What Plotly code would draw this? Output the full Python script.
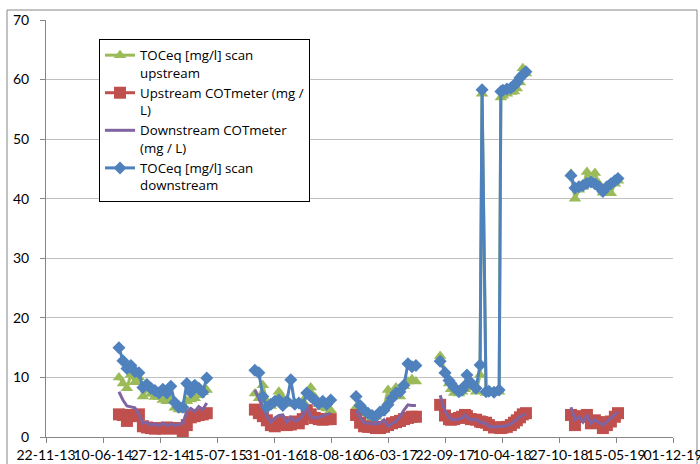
import plotly.graph_objects as go

# ---------------- data ----------------
tick_dates = ["2013-11-22", "2014-06-10", "2014-12-27", "2015-07-15", "2016-01-31", "2016-08-18",
              "2017-03-06", "2017-09-22", "2018-04-10", "2018-10-27", "2019-05-15", "2019-12-01"]
tick_labels = ["22-11-13", "10-06-14", "27-12-14", "15-07-15", "31-01-16", "18-08-16",
               "06-03-17", "22-09-17", "10-04-18", "27-10-18", "15-05-19", "01-12-19"]

g1_dates = ["2014-08-05", "2014-08-19", "2014-09-02", "2014-09-16", "2014-09-30", "2014-10-14",
            "2014-10-28", "2014-11-11", "2014-11-25", "2014-12-09", "2014-12-23", "2015-01-06",
            "2015-01-20", "2015-02-03", "2015-02-17", "2015-03-03", "2015-03-17", "2015-03-31",
            "2015-04-14", "2015-04-28", "2015-05-12", "2015-05-26", "2015-06-09"]
g1_scan_up = [10.0, 9.0, 8.2, 10.5, 9.2, 10.0, 6.8, 8.0, 7.2, 6.7, 6.7, 6.2, 6.0, 6.5, 4.9, 4.6, 4.5,
              6.0, 6.3, 6.5, 7.0, 7.5, 7.9]
g1_cot_up = [3.8, 3.7, 2.7, 3.5, 3.7, 3.8, 1.8, 1.6, 1.5, 1.4, 1.5, 1.4, 1.6, 1.5, 1.4, 1.5, 0.9,
             2.0, 3.3, 3.5, 3.7, 3.8, 4.0]
g1_cot_down = [7.6, 6.2, 5.2, 5.0, 4.9, 3.8, 2.3, 2.5, 2.0, 2.2, 1.9, 2.3, 1.9, 2.2, 1.9, 2.1, 2.3,
               4.3, 4.8, 4.3, 5.1, 4.6, 5.7]
g1_scan_down = [15.0, 12.8, 11.5, 12.0, 11.0, 10.8, 8.3, 8.8, 8.2, 7.8, 7.4, 8.0, 7.4, 8.5, 5.8, 5.0,
                5.0, 9.0, 7.5, 8.7, 8.2, 7.5, 9.9]

g2_dates = ["2015-11-25", "2015-12-09", "2015-12-23", "2016-01-06", "2016-01-20", "2016-02-03",
            "2016-02-17", "2016-03-02", "2016-03-16", "2016-03-30", "2016-04-13", "2016-04-27",
            "2016-05-11", "2016-05-25", "2016-06-08", "2016-06-22", "2016-07-06", "2016-07-20",
            "2016-08-03", "2016-08-17"]
g2_scan_up = [7.3, 6.5, 8.7, 6.0, 5.2, 6.0, 7.6, 6.5, 5.8, 5.6, 5.5, 5.5, 6.0, 6.8, 8.3, 6.7, 5.5,
              5.0, 4.8, 4.5]
g2_cot_up = [4.6, 4.0, 3.5, 2.8, 2.0, 1.8, 2.2, 2.5, 2.0, 2.1, 2.6, 2.3, 3.0, 4.5, 3.8, 3.2, 3.0,
             2.9, 3.0, 3.0]
g2_cot_down = [7.9, 6.4, 4.8, 3.5, 2.5, 3.2, 3.6, 3.7, 2.5, 3.3, 2.7, 2.9, 3.6, 5.0, 3.4, 3.2, 3.3,
               3.5, 3.8, 4.0]
g2_scan_down = [11.2, 10.8, 6.8, 5.0, 5.5, 6.0, 6.2, 5.3, 6.0, 9.6, 5.5, 5.7, 5.3, 7.4, 6.8, 6.2,
                5.6, 6.0, 5.5, 6.2]

g3_dates = ["2016-11-14", "2016-11-28", "2016-12-12", "2016-12-26", "2017-01-09", "2017-01-23",
            "2017-02-06", "2017-02-20", "2017-03-06", "2017-03-20", "2017-04-03", "2017-04-17",
            "2017-05-01", "2017-05-15", "2017-05-29", "2017-06-12"]
g3_scan_up = [5.0, 4.3, 4.0, 3.5, 3.2, 3.4, 4.0, 5.0, 7.9, 7.0, 8.3, 6.8, 8.5, 9.3, 9.7, 9.3]
g3_cot_up = [3.7, 2.4, 1.8, 1.7, 1.7, 1.5, 1.5, 1.7, 2.0, 2.3, 2.5, 2.7, 3.0, 3.2, 3.4, 3.4]
g3_cot_down = [4.5, 3.3, 2.4, 2.3, 2.3, 2.2, 2.3, 2.9, 1.8, 2.3, 2.6, 3.4, 4.5, 5.4, 5.3, 5.3]
g3_scan_down = [6.8, 5.3, 4.5, 4.0, 3.6, 3.5, 4.2, 4.5, 5.4, 6.5, 7.4, 7.6, 8.7, 12.3, 11.8, 12.0]

g4_dates = ["2017-09-05", "2017-09-22", "2017-10-06", "2017-10-13", "2017-10-24", "2017-11-10",
            "2017-11-21", "2017-12-01", "2017-12-08", "2017-12-22", "2018-01-09", "2018-01-23",
            "2018-01-30", "2018-02-13", "2018-02-23", "2018-03-13", "2018-03-31", "2018-04-06",
            "2018-04-13", "2018-04-27", "2018-05-11", "2018-05-22", "2018-06-01", "2018-06-12",
            "2018-06-22", "2018-07-03"]
g4_scan_up = [13.6, 11.0, 9.0, 8.0, 7.4, 7.3, 7.6, 8.0, 8.5, 8.3, 7.6, 10.4, 57.6, 7.4, 7.5, 7.4,
              7.6, 57.0, 57.3, 57.6, 57.9, 58.0, 58.5, 59.5, 61.9, 61.0]
g4_cot_up = [5.4, 3.6, 3.0, 2.9, 3.0, 3.2, 3.4, 3.7, 3.5, 3.0, 2.9, 2.6, 2.5, 2.4, 2.0, 1.6, 1.6,
             1.5, 1.6, 1.7, 2.0, 2.4, 2.8, 3.3, 3.8, 4.0]
g4_cot_down = [7.0, 4.3, 3.4, 3.0, 2.9, 3.0, 3.2, 3.7, 3.3, 2.9, 2.9, 2.5, 2.4, 2.3, 1.8, 1.7, 1.7,
               1.7, 1.8, 1.9, 2.2, 2.6, 2.9, 3.4, 3.7, 3.9]
g4_scan_down = [12.7, 10.8, 9.5, 9.0, 8.3, 7.6, 7.9, 8.6, 10.4, 9.1, 8.2, 12.1, 58.3, 7.6, 7.7, 7.5,
                7.9, 58.0, 58.2, 58.4, 58.6, 59.0, 59.5, 60.3, 60.8, 61.3]

g5_dates = ["2018-12-08", "2018-12-22", "2019-01-05", "2019-01-19", "2019-02-02", "2019-02-16",
            "2019-03-02", "2019-03-16", "2019-03-30", "2019-04-13", "2019-04-27", "2019-05-11",
            "2019-05-22"]
g5_scan_up = [44.2, 40.0, 41.5, 42.0, 44.5, 43.0, 44.3, 42.5, 41.0, 41.5, 40.9, 42.5, 43.0]
g5_cot_up = [3.7, 2.0, 3.4, 3.5, 3.7, 2.3, 2.8, 2.5, 1.5, 2.0, 2.6, 3.4, 4.0]
g5_cot_down = [5.0, 2.9, 3.4, 2.5, 3.7, 2.3, 2.9, 2.5, 2.0, 2.6, 3.2, 3.8, 4.2]
g5_scan_down = [43.9, 41.8, 42.0, 42.2, 42.6, 42.8, 42.5, 42.0, 41.2, 42.0, 42.5, 43.0, 43.4]

series_names = ["TOCeq [mg/l] scan<br>upstream", "Upstream COTmeter (mg /<br>L)",
                "Downstream COTmeter<br>(mg / L)", "TOCeq [mg/l] scan<br>downstream"]

# ---------------- helpers ----------------
groups_dates = [g1_dates, g2_dates, g3_dates, g4_dates, g5_dates]


def join(groups):
    out = []
    for i, g in enumerate(groups):
        if i:
            out.append(None)
        out.extend(g)
    return out


x_all = join(groups_dates)
scan_up = join([g1_scan_up, g2_scan_up, g3_scan_up, g4_scan_up, g5_scan_up])
cot_up = join([g1_cot_up, g2_cot_up, g3_cot_up, g4_cot_up, g5_cot_up])
cot_down = join([g1_cot_down, g2_cot_down, g3_cot_down, g4_cot_down, g5_cot_down])
scan_down = join([g1_scan_down, g2_scan_down, g3_scan_down, g4_scan_down, g5_scan_down])

GREEN = "#9BBB59"
RED = "#C0504D"
PURPLE = "#8064A2"
BLUE = "#4F81BD"
FONT = "Lato, 'Liberation Sans', sans-serif"
LEG_FONT = "'Open Sans', 'Liberation Sans', sans-serif"

fig = go.Figure()
fig.add_trace(go.Scatter(x=x_all, y=scan_up, name=series_names[0], mode="lines+markers",
                         line=dict(color=GREEN, width=3),
                         marker=dict(symbol="triangle-up", size=11, color=GREEN)))
fig.add_trace(go.Scatter(x=x_all, y=cot_up, name=series_names[1], mode="lines+markers",
                         line=dict(color=RED, width=3),
                         marker=dict(symbol="square", size=12, color=RED)))
fig.add_trace(go.Scatter(x=x_all, y=cot_down, name=series_names[2], mode="lines",
                         line=dict(color=PURPLE, width=3)))
fig.add_trace(go.Scatter(x=x_all, y=scan_down, name=series_names[3], mode="lines+markers",
                         line=dict(color=BLUE, width=3),
                         marker=dict(symbol="diamond", size=10, color=BLUE)))

L, R, T, B = 46, 27, 20, 27
W, H = 700, 464
pw, ph = W - L - R, H - T - B

fig.update_layout(
    width=W, height=H,
    margin=dict(l=L, r=R, t=T, b=B, pad=0, autoexpand=False),
    paper_bgcolor="white", plot_bgcolor="white",
    font=dict(family=FONT, size=14, color="#000000"),
    showlegend=True,
    legend=dict(x=(99 - L) / pw, y=(H - B - 39) / ph, xanchor="left", yanchor="top",
                bgcolor="white", bordercolor="#000000", borderwidth=1,
                font=dict(family=LEG_FONT, size=13.3, color="#000000"),
                valign="top", tracegroupgap=0, entrywidth=210),
    xaxis=dict(type="date", range=[tick_dates[0], tick_dates[-1]],
               tickmode="array", tickvals=tick_dates, ticktext=tick_labels,
               tickangle=0, automargin=False, ticklabeloverflow="allow",
               ticks="outside", ticklen=5, tickcolor="#868686",
               showline=True, linecolor="#868686", linewidth=1,
               showgrid=False, zeroline=False,
               tickfont=dict(family=FONT, size=14, color="#000000")),
    yaxis=dict(range=[0, 70], tickmode="linear", tick0=0, dtick=10, automargin=False,
               ticks="outside", ticklen=5, tickcolor="#868686", ticklabelstandoff=8,
               showline=True, linecolor="#868686", linewidth=1,
               showgrid=True, gridcolor="#C0C0C0", gridwidth=1, zeroline=False,
               tickfont=dict(family=FONT, size=14, color="#000000")),
    shapes=[dict(type="rect", xref="paper", yref="paper",
                 x0=(7 - L) / pw, x1=(697 - L) / pw,
                 y0=(H - B - 480) / ph, y1=(H - B - 10) / ph,
                 line=dict(color="#868686", width=1), fillcolor="rgba(0,0,0,0)", layer="below")],
)

fig.write_html("out.html")
